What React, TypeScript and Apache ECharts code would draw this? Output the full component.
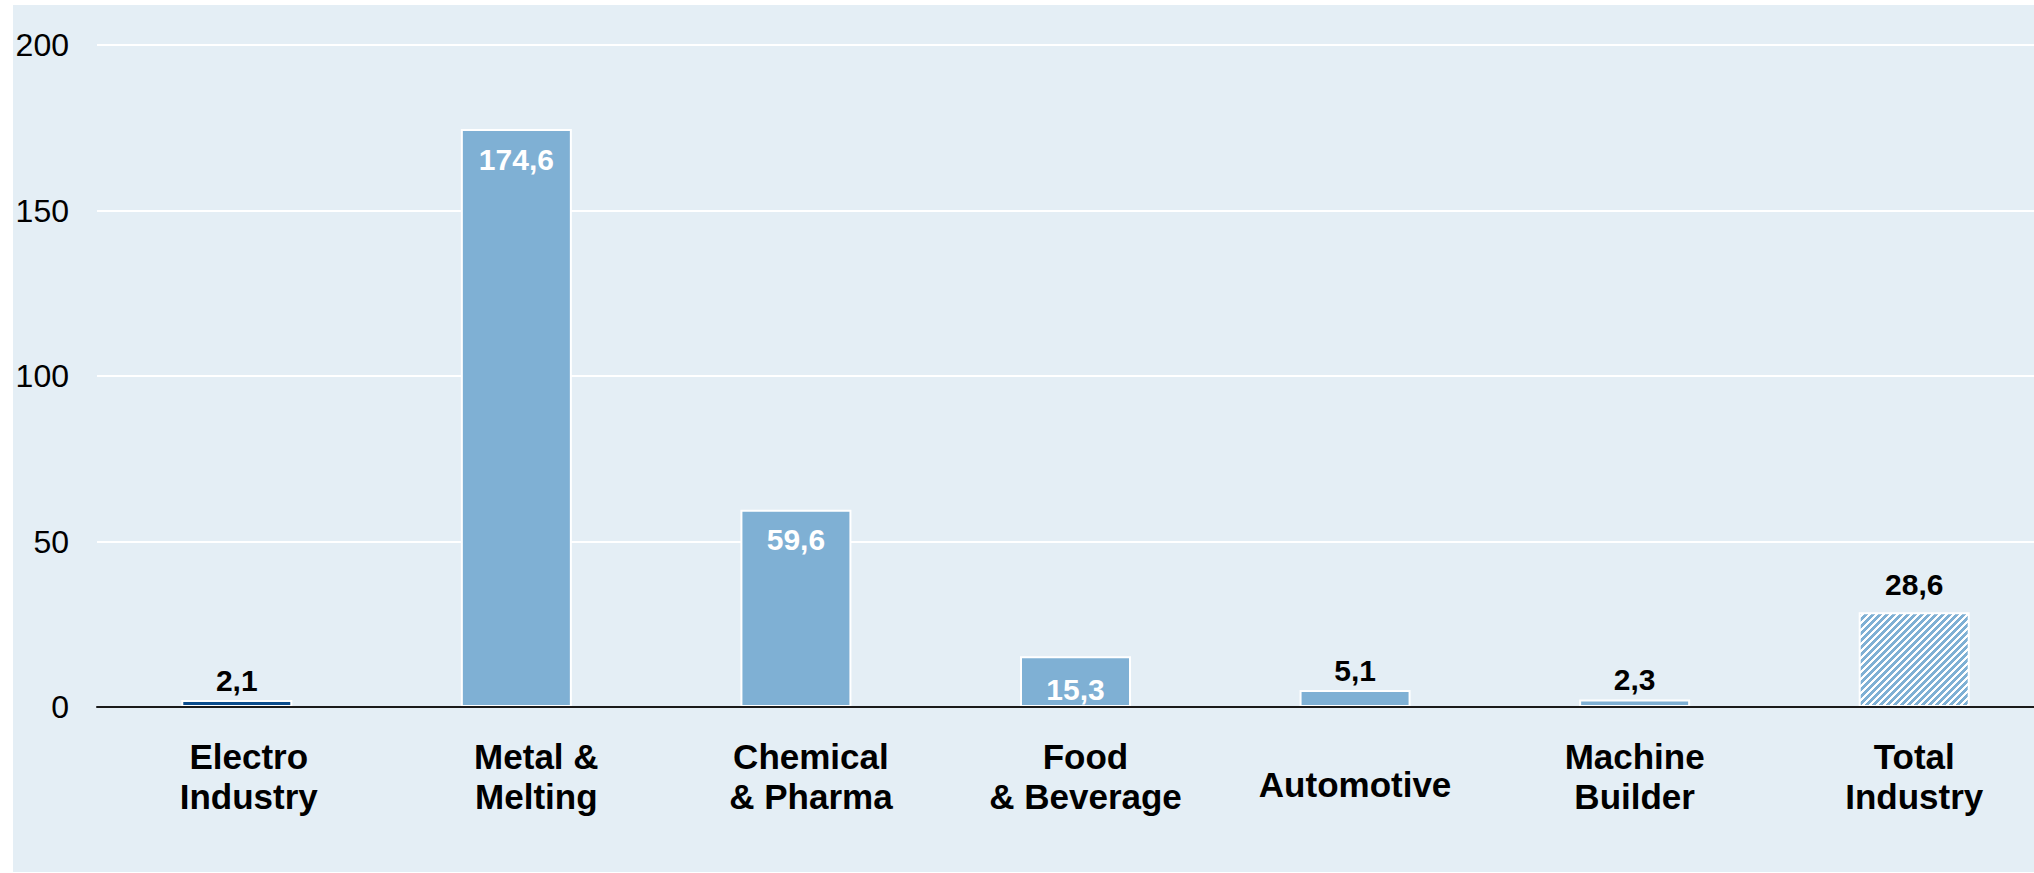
import React, { useEffect, useRef } from "react";
import * as echarts from "echarts";

const categories = [
  "Electro\nIndustry",
  "Metal &\nMelting",
  "Chemical\n& Pharma",
  "Food\n& Beverage",
  "Automotive",
  "Machine\nBuilder",
  "Total\nIndustry",
];
const values = [2.1, 174.6, 59.6, 15.3, 5.1, 2.3, 28.6];
const yTicks = { min: 0, max: 200, interval: 50 };

const FONT = "'Liberation Sans', Arial, Helvetica, sans-serif";
const BG = "#E4EEF5";
const BAR = "#7FB0D4";
const DARK = "#0B4C8C";

// style lookups by index (not data)
const insideLabel = [false, true, true, true, false, false, false];
const labelOffsetX = [24, 40, 30, 20, 0, 0, 0];
const labelOffsetY = [0, 0, 0, 0, 28, 0, 0];

function makePattern() {
  const s = 7;
  const c = document.createElement("canvas");
  c.width = s;
  c.height = s;
  const ctx = c.getContext("2d")!;
  const img = ctx.createImageData(s, s);
  for (let y = 0; y < s; y++) {
    for (let x = 0; x < s; x++) {
      const i = (y * s + x) * 4;
      const blue = (x + y) % s < 4;
      img.data[i] = blue ? 0x7f : 0xff;
      img.data[i + 1] = blue ? 0xb0 : 0xff;
      img.data[i + 2] = blue ? 0xd4 : 0xff;
      img.data[i + 3] = 255;
    }
  }
  ctx.putImageData(img, 0, 0);
  return c;
}

export default function App() {
  const ref = useRef<HTMLDivElement>(null);
  useEffect(() => {
    if (!ref.current) return;
    const chart = echarts.init(ref.current, null, { renderer: "svg" });
    const pattern = makePattern();
    const fmt = (v: number) => v.toFixed(1).replace(".", ",");

    const data = values.map((v, i) => {
      const isTotal = i === values.length - 1;
      const color = i === 0 ? DARK : isTotal ? { image: pattern, repeat: "repeat" } : BAR;
      return {
        value: v,
        itemStyle: { color, borderColor: "#ffffff", borderWidth: 2 },
        label: insideLabel[i]
          ? { position: "insideTop", distance: i === 3 ? 18 : 15, color: "#ffffff" }
          : { position: "top", distance: isTotal ? 13 : 5, color: "#000000" },
      };
    });

    const catData = categories.map((c, i) => ({
      value: c,
      textStyle: { padding: [labelOffsetY[i], 0, 0, labelOffsetX[i]] },
    }));

    chart.setOption({
      animation: false,
      backgroundColor: "#ffffff",
      graphic: [
        {
          type: "rect",
          z: -100,
          silent: true,
          shape: { x: 13, y: 5, width: 2060, height: 867 },
          style: { fill: BG },
        },
      ],
      grid: { left: 97, right: 0, top: 45, height: 662, containLabel: false },
      xAxis: {
        type: "category",
        data: catData,
        z: 5,
        axisLine: { show: true, lineStyle: { color: "#1a1a1a", width: 2 } },
        axisTick: { show: false },
        axisLabel: {
          interval: 0,
          margin: 29,
          fontFamily: FONT,
          fontSize: 35,
          fontWeight: "bold",
          lineHeight: 40,
          color: "#000000",
        },
      },
      yAxis: {
        type: "value",
        min: yTicks.min,
        max: yTicks.max,
        interval: yTicks.interval,
        axisLine: { show: false },
        axisTick: { show: false },
        splitLine: { show: true, lineStyle: { color: "#ffffff", width: 2 } },
        axisLabel: {
          margin: 28,
          fontFamily: FONT,
          fontSize: 32,
          color: "#000000",
        },
      },
      series: [
        {
          type: "bar",
          barWidth: 111,
          data,
          label: {
            show: true,
            fontFamily: FONT,
            fontSize: 30,
            fontWeight: "bold",
            formatter: (p: any) => fmt(p.value),
          },
        },
      ],
    });
    return () => chart.dispose();
  }, []);
  return (
    <div
      style={{
        position: "absolute",
        left: 0,
        top: 0,
        width: 2034,
        height: 873,
        overflow: "hidden",
      }}
    >
      <div ref={ref} style={{ width: 2054, height: 873 }} />
    </div>
  );
}
